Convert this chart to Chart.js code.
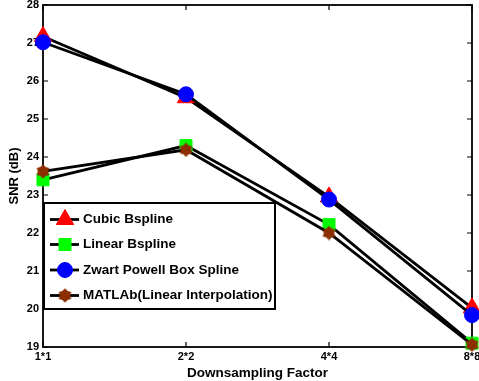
<!DOCTYPE html>
<html><head><meta charset="utf-8">
<script src="https://cdn.jsdelivr.net/npm/chart.js@4/dist/chart.umd.min.js"></script>
<style>html,body{margin:0;padding:0;background:#fff}#wrap{width:479px;height:381px}</style>
</head><body><div id="wrap"><canvas id="c" width="479" height="381"></canvas></div>
<script>
const categories = ['1*1','2*2','4*4','8*8'];
const cubicBspline = [27.17, 25.56, 22.95, 20.03];
const linearBspline = [23.40, 24.30, 22.22, 19.10];
const zwartPowell = [27.02, 25.65, 22.88, 19.84];
const matlabLinear = [23.62, 24.19, 22.00, 19.06];
const seriesNames = ['Cubic Bspline','Linear Bspline','Zwart Powell Box Spline','MATLAb(Linear Interpolation)'];
const yTicks = [19,20,21,22,23,24,25,26,27,28];

const FONT = 'Liberation Sans, Arial, Helvetica, sans-serif';

function hexagram(color, size){
  const cv = document.createElement('canvas');
  cv.width = size; cv.height = size;
  const g = cv.getContext('2d');
  const c = size/2, R = size/2 - 0.3, r = R*0.72;
  g.fillStyle = color;
  g.beginPath();
  for (let i=0;i<12;i++){
    const a = -Math.PI/2 + i*Math.PI/6;
    const rr = i%2===0 ? R : r;
    const px = c + rr*Math.cos(a), py = c + rr*Math.sin(a);
    i===0 ? g.moveTo(px,py) : g.lineTo(px,py);
  }
  g.closePath(); g.fill();
  return cv;
}
const brownStar = hexagram('#8c2f00', 15);

const frame = {
  id:'frame',
  beforeDatasetsDraw(chart){
    const {ctx, chartArea:a, scales} = chart;
    ctx.save();
    ctx.strokeStyle = '#000';
    ctx.lineWidth = 1.2;
    const tl = 5;
    ctx.beginPath();
    scales.y.ticks.forEach((t,i)=>{
      const y = scales.y.getPixelForTick(i);
      ctx.moveTo(a.left, y); ctx.lineTo(a.left+tl, y);
      ctx.moveTo(a.right, y); ctx.lineTo(a.right-tl, y);
    });
    scales.x.ticks.forEach((t,i)=>{
      const x = scales.x.getPixelForTick(i);
      ctx.moveTo(x, a.bottom); ctx.lineTo(x, a.bottom-tl);
      ctx.moveTo(x, a.top); ctx.lineTo(x, a.top+tl);
    });
    ctx.stroke();
    ctx.lineWidth = 1.8;
    ctx.strokeRect(a.left, a.top, a.right-a.left, a.bottom-a.top);
    ctx.restore();
  }
};

const legendBox = {
  id:'legendBox',
  afterDatasetsDraw(chart){
    const {ctx, chartArea:a} = chart;
    const x0 = a.left+1, y0 = 203, w = 231, h = 106;
    ctx.save();
    ctx.fillStyle = '#fff';
    ctx.fillRect(x0, y0, w, h);
    ctx.strokeStyle = '#000'; ctx.lineWidth = 2;
    ctx.strokeRect(x0, y0, w, h);
    const rows = [219.5, 244.5, 270, 295.5];
    chart.data.datasets.forEach((ds, i)=>{
      const y = rows[i];
      ctx.strokeStyle = '#000'; ctx.lineWidth = 2.8;
      ctx.beginPath(); ctx.moveTo(50, y); ctx.lineTo(79, y); ctx.stroke();
      const ps = ds.pointStyle;
      if (ps instanceof HTMLCanvasElement){
        ctx.drawImage(ps, 65-ps.width/2, y-ps.height/2);
      } else {
        ctx.fillStyle = ds.pointBackgroundColor; ctx.strokeStyle = ds.pointBorderColor; ctx.lineWidth = 1;
        Chart.helpers.drawPoint(ctx, {pointStyle: ps, radius: ds.pointRadius, borderWidth: 1}, 65, y);
      }
      ctx.fillStyle = '#000';
      ctx.font = 'bold 13.5px ' + FONT;
      ctx.textBaseline = 'middle'; ctx.textAlign = 'left';
      ctx.fillText(seriesNames[i], 83, y);
    });
    ctx.restore();
  }
};

function ds(label, data, style, color, radius, order){
  return {label, data, borderColor:'#000', borderWidth:2.8, pointStyle:style,
    pointBackgroundColor:color, pointBorderColor:color, pointBorderWidth:1,
    pointRadius:radius, pointHoverRadius:radius, tension:0, clip:false, order};
}

new Chart(document.getElementById('c'), {
  type:'line',
  data:{
    labels: categories,
    datasets:[
      ds(seriesNames[0], cubicBspline, 'triangle', '#ff0000', 10, 4),
      ds(seriesNames[1], linearBspline, 'rect', '#00ff00', 8.5, 3),
      ds(seriesNames[2], zwartPowell, 'circle', '#0000ff', 7.5, 2),
      ds(seriesNames[3], matlabLinear, brownStar, '#8c2f00', 7.5, 1)
    ]
  },
  options:{
    responsive:false, animation:false, devicePixelRatio:1,
    layout:{autoPadding:false, padding:{top:5, right:7, left:0, bottom:0}},
    plugins:{legend:{display:false}, tooltip:{enabled:false}},
    scales:{
      x:{
        type:'category', offset:false,
        grid:{display:false, drawTicks:false}, border:{display:false},
        ticks:{color:'#000', font:{family:FONT, weight:'bold', size:11}, padding:3, maxRotation:0, autoSkip:false},
        title:{display:true, text:'Downsampling Factor', color:'#000', font:{family:FONT, weight:'bold', size:13.5}, padding:{top:2,bottom:0}},
        afterFit(s){ s.height = 34; s.paddingLeft = 0; s.paddingRight = 0; }
      },
      y:{
        min:19, max:28,
        afterBuildTicks(s){ s.ticks = yTicks.map(v=>({value:v})); },
        grid:{display:false, drawTicks:false}, border:{display:false},
        ticks:{color:'#000', font:{family:FONT, weight:'bold', size:11}, padding:4},
        title:{display:true, text:'SNR (dB)', color:'#000', font:{family:FONT, weight:'bold', size:13}, padding:{top:7,bottom:0}},
        afterFit(s){ s.width = 43; s.paddingTop = 0; s.paddingBottom = 0; }
      }
    }
  },
  plugins:[frame, legendBox]
});
</script></body></html>
